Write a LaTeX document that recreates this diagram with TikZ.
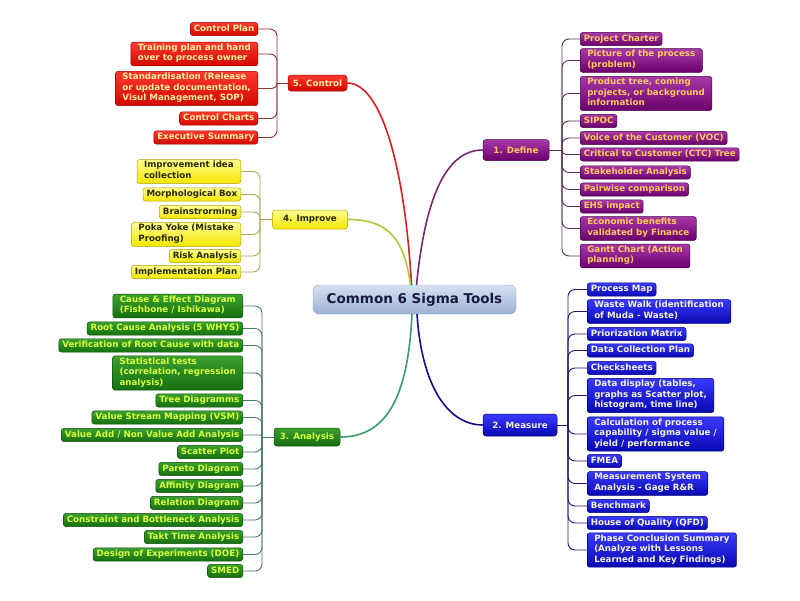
\documentclass[tikz,border=0pt]{standalone}
\usepackage{fontspec}
\setmainfont{DejaVu Sans}
\usetikzlibrary{calc}
\definecolor{rtop}{HTML}{FF3A30}\definecolor{rbot}{HTML}{D00800}\definecolor{rbrd}{HTML}{A00000}\definecolor{rtxt}{HTML}{FFF0A0}
\definecolor{ytop}{HTML}{FFFF90}\definecolor{ybot}{HTML}{F4E600}\definecolor{ybrd}{HTML}{B0A000}\definecolor{ytxt}{HTML}{2A2A00}
\definecolor{gtop}{HTML}{3CA030}\definecolor{gbot}{HTML}{157010}\definecolor{gbrd}{HTML}{0E500A}\definecolor{gtxt}{HTML}{D8FF40}
\definecolor{ptop}{HTML}{A83AA8}\definecolor{pbot}{HTML}{6A006A}\definecolor{pbrd}{HTML}{4A004A}\definecolor{ptxt}{HTML}{FFC860}
\definecolor{btop}{HTML}{3A3AFF}\definecolor{bbot}{HTML}{0808B0}\definecolor{bbrd}{HTML}{000080}\definecolor{btxt}{HTML}{F2F2DC}
\definecolor{ctop}{HTML}{D6E0F0}\definecolor{cbot}{HTML}{9CB2D6}\definecolor{cbrd}{HTML}{8CA0C0}\definecolor{ctxt}{HTML}{1A1A40}
\definecolor{lred}{HTML}{8A3434}\definecolor{lyel}{HTML}{A8A850}\definecolor{lgrn}{HTML}{4A7A70}\definecolor{lpur}{HTML}{553355}\definecolor{lblu}{HTML}{1A1A6A}
\definecolor{kred}{HTML}{D42020}\definecolor{kyel}{HTML}{ABC83A}\definecolor{kgrn}{HTML}{3A9A6A}\definecolor{kpur}{HTML}{7A2A6A}\definecolor{kblu}{HTML}{10108A}
\newcommand\leaffont{\fontsize{8.7}{10.5}\selectfont\bfseries}
\tikzset{
  leaf/.style={rounded corners=2.5pt, inner xsep=3.5pt, inner ysep=1.3pt, align=left, font=\leaffont,
    execute at begin node=\strut, execute at end node=\strut, line width=0.5pt},
  ml/.style={inner xsep=7pt, inner ysep=1.8pt},
  redleaf/.style={leaf, top color=rtop, bottom color=rbot, draw=rbrd, text=rtxt},
  yelleaf/.style={leaf, top color=ytop, bottom color=ybot, draw=ybrd, text=ytxt},
  grnleaf/.style={leaf, top color=gtop, bottom color=gbot, draw=gbrd, text=gtxt},
  purleaf/.style={leaf, top color=ptop, bottom color=pbot, draw=pbrd, text=ptxt},
  bluleaf/.style={leaf, top color=btop, bottom color=bbot, draw=bbrd, text=btxt},
  mainbox/.style={rounded corners=3pt, font=\leaffont, inner sep=0pt, line width=0.5pt},
  conn/.style={line width=0.9pt},
  bigcurve/.style={line width=1.6pt},
}
\begin{document}
\begin{tikzpicture}[x=1pt,y=-1pt]
\useasboundingbox[fill=white] (0,0) rectangle (800,600);

% centre
\node[rounded corners=6pt, top color=ctop, bottom color=cbot, draw=cbrd, text=ctxt,
  minimum width=203pt, minimum height=29pt, inner sep=0pt,
  font=\fontsize{13.5}{15}\selectfont\bfseries] (ctr) at (414.5,299.5) {Common 6 Sigma Tools};

% main branch nodes
\node[mainbox, top color=rtop, bottom color=rbot, draw=rbrd, text=rtxt, minimum width=59pt, minimum height=16pt] (m5) at (317.5,83) {5. Control};
\node[mainbox, top color=ytop, bottom color=ybot, draw=ybrd, text=ytxt, minimum width=75pt, minimum height=19pt] (m4) at (310,219.5) {4. Improve};
\node[mainbox, top color=gtop, bottom color=gbot, draw=gbrd, text=gtxt, minimum width=66pt, minimum height=18pt] (m3) at (307,437) {3. Analysis};
\node[mainbox, top color=ptop, bottom color=pbot, draw=pbrd, text=ptxt, minimum width=66pt, minimum height=21pt] (m1) at (516,150) {1. Define};
\node[mainbox, top color=btop, bottom color=bbot, draw=bbrd, text=btxt, minimum width=74pt, minimum height=22pt] (m2) at (520,425) {2. Measure};

% trunk points
\coordinate (t5) at (277,83);
\coordinate (t4) at (260,219.5);
\coordinate (t3) at (262,437);
\coordinate (t1) at (562,150);
\coordinate (t2) at (568,425);

% centre-to-branch curves
\coordinate (s5) at (411.5,285);
\coordinate (s4) at (410.5,285);
\coordinate (s1) at (416.5,285);
\coordinate (s3) at (412,314);
\coordinate (s2) at (417,314);
\draw[bigcurve, kred] (s5) .. controls (405,170) and (382,83) .. (m5.east);
\draw[bigcurve, kyel] (s4) .. controls (404,235) and (385,219.5) .. (m4.east);
\draw[bigcurve, kpur] (s1) .. controls (425,200) and (445,150) .. (m1.west);
\draw[bigcurve, kgrn] (s3) .. controls (408,400) and (385,437) .. (m3.east);
\draw[bigcurve, kblu] (s2) .. controls (422,390) and (450,425) .. (m2.west);

% 5. Control leaves
\node[redleaf, anchor=east] (c1) at (258,29) {Control Plan};
\node[redleaf, ml, anchor=east] (c2) at (258,54) {Training plan and hand\\over to process owner};
\node[redleaf, ml, anchor=east] (c3) at (258,88.5) {Standardisation (Release\\or update documentation,\\Visul Management, SOP)};
\node[redleaf, anchor=east] (c4) at (258,118.5) {Control Charts};
\node[redleaf, anchor=east] (c5) at (258,137.5) {Executive Summary};
\draw[conn, lred] (m5.west) -- (t5);
\foreach \n/\r in {c1/7,c2/7,c3/5,c4/7,c5/7}
  \draw[conn, lred, rounded corners=\r pt] (t5) |- (\n.east);

% 4. Improve leaves
\node[yelleaf, ml, anchor=east] (i1) at (241,171.5) {Improvement idea\\collection};
\node[yelleaf, anchor=east] (i2) at (241,194.5) {Morphological Box};
\node[yelleaf, anchor=east] (i3) at (241,212) {Brainstrorming};
\node[yelleaf, ml, anchor=east] (i4) at (241,234.5) {Poka Yoke (Mistake\\Proofing)};
\node[yelleaf, anchor=east] (i5) at (241,256) {Risk Analysis};
\node[yelleaf, anchor=east] (i6) at (241,272) {Implementation Plan};
\draw[conn, lyel] (m4.west) -- (t4);
\foreach \n/\r in {i1/7,i2/7,i3/6,i4/7,i5/7,i6/7}
  \draw[conn, lyel, rounded corners=\r pt] (t4) |- (\n.east);

% 3. Analysis leaves
\node[grnleaf, ml, anchor=east] (a1) at (243,306) {Cause \& Effect Diagram\\(Fishbone / Ishikawa)};
\node[grnleaf, anchor=east] (a2) at (243,328.5) {Root Cause Analysis (5 WHYS)};
\node[grnleaf, anchor=east] (a3) at (243,345.5) {Verification of Root Cause with data};
\node[grnleaf, ml, anchor=east] (a4) at (243,373) {Statistical tests\\(correlation, regression\\analysis)};
\node[grnleaf, anchor=east] (a5) at (243,400.5) {Tree Diagramms};
\node[grnleaf, anchor=east] (a6) at (243,417.5) {Value Stream Mapping (VSM)};
\node[grnleaf, anchor=east] (a7) at (243,435) {Value Add / Non Value Add Analysis};
\node[grnleaf, anchor=east] (a8) at (243,452) {Scatter Plot};
\node[grnleaf, anchor=east] (a9) at (243,469) {Pareto Diagram};
\node[grnleaf, anchor=east] (a10) at (243,486) {Affinity Diagram};
\node[grnleaf, anchor=east] (a11) at (243,503) {Relation Diagram};
\node[grnleaf, anchor=east] (a12) at (243,520) {Constraint and Bottleneck Analysis};
\node[grnleaf, anchor=east] (a13) at (243,537) {Takt Time Analysis};
\node[grnleaf, anchor=east] (a14) at (243,554.5) {Design of Experiments (DOE)};
\node[grnleaf, anchor=east] (a15) at (243,571) {SMED};
\draw[conn, lgrn] (m3.west) -- (t3);
\foreach \n/\r in {a1/7,a2/7,a3/7,a4/7,a5/7,a6/7,a7/1.5,a8/7,a9/7,a10/7,a11/7,a12/7,a13/7,a14/7,a15/7}
  \draw[conn, lgrn, rounded corners=\r pt] (t3) |- (\n.east);

% 1. Define leaves
\node[purleaf, anchor=west] (d1) at (580,39) {Project Charter};
\node[purleaf, ml, anchor=west] (d2) at (580,60.5) {Picture of the process\\(problem)};
\node[purleaf, ml, anchor=west] (d3) at (580,93.5) {Product tree, coming\\projects, or background\\information};
\node[purleaf, anchor=west] (d4) at (580,121) {SIPOC};
\node[purleaf, anchor=west] (d5) at (580,138) {Voice of the Customer (VOC)};
\node[purleaf, anchor=west] (d6) at (580,154.5) {Critical to Customer (CTC) Tree};
\node[purleaf, anchor=west] (d7) at (580,172.5) {Stakeholder Analysis};
\node[purleaf, anchor=west] (d8) at (580,189.5) {Pairwise comparison};
\node[purleaf, anchor=west] (d9) at (580,206.5) {EHS impact};
\node[purleaf, ml, anchor=west] (d10) at (580,228.5) {Economic benefits\\validated by Finance};
\node[purleaf, ml, anchor=west] (d11) at (580,256) {Gantt Chart (Action\\planning)};
\draw[conn, lpur] (m1.east) -- (t1);
\foreach \n/\r in {d1/7,d2/7,d3/7,d4/7,d5/7,d6/4,d7/7,d8/7,d9/7,d10/7,d11/7}
  \draw[conn, lpur, rounded corners=\r pt] (t1) |- (\n.west);

% 2. Measure leaves
\node[bluleaf, anchor=west] (e1) at (587,289.5) {Process Map};
\node[bluleaf, ml, anchor=west] (e2) at (587,311.5) {Waste Walk (identification\\of Muda - Waste)};
\node[bluleaf, anchor=west] (e3) at (587,334) {Priorization Matrix};
\node[bluleaf, anchor=west] (e4) at (587,350.5) {Data Collection Plan};
\node[bluleaf, anchor=west] (e5) at (587,368) {Checksheets};
\node[bluleaf, ml, anchor=west] (e6) at (587,395.5) {Data display (tables,\\graphs as Scatter plot,\\histogram, time line)};
\node[bluleaf, ml, anchor=west] (e7) at (587,434) {Calculation of process\\capability / sigma value /\\yield / performance};
\node[bluleaf, anchor=west] (e8) at (587,461) {FMEA};
\node[bluleaf, ml, anchor=west] (e9) at (587,483.5) {Measurement System\\Analysis - Gage R\&R};
\node[bluleaf, anchor=west] (e10) at (587,506) {Benchmark};
\node[bluleaf, anchor=west] (e11) at (587,523) {House of Quality (QFD)};
\node[bluleaf, ml, anchor=west] (e12) at (587,550) {Phase Conclusion Summary\\(Analyze with Lessons\\Learned and Key Findings)};
\draw[conn, lblu] (m2.east) -- (t2);
\foreach \n/\r in {e1/7,e2/7,e3/7,e4/7,e5/7,e6/7,e7/7,e8/7,e9/7,e10/7,e11/7,e12/7}
  \draw[conn, lblu, rounded corners=\r pt] (t2) |- (\n.west);
\end{tikzpicture}
\end{document}
